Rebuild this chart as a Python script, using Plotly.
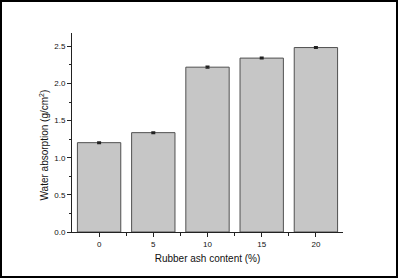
import plotly.graph_objects as go

categories = ["0", "5", "10", "15", "20"]
absorption = [1.203, 1.338, 2.220, 2.342, 2.484]
errors = [0.010, 0.010, 0.012, 0.010, 0.010]
y_ticks = [0.0, 0.5, 1.0, 1.5, 2.0, 2.5]
y_tick_labels = ["0.0", "0.5", "1.0", "1.5", "2.0", "2.5"]

W, H = 399, 279
L, R, T, B = 72, 56, 33, 47
pw, ph = W - L - R, H - T - B

def px(x):
    return (x - L) / pw

def py(y):
    return (H - B - y) / ph

fig = go.Figure()
fig.add_trace(go.Bar(
    x=list(range(len(categories))),
    y=absorption,
    width=0.8,
    marker=dict(color="#c6c6c6", line=dict(color="#505050", width=1)),
    error_y=dict(type="data", array=errors, visible=True, color="#222222",
                 thickness=1.5, width=2),
))

fig.update_layout(
    width=W, height=H,
    margin=dict(l=L, r=R, t=T, b=B, pad=0),
    paper_bgcolor="white", plot_bgcolor="white",
    showlegend=False,
    bargap=0.2,
    font=dict(family="Liberation Sans, Arial, sans-serif", color="#111111"),
    xaxis=dict(
        range=[-0.5, 4.5],
        tickmode="array",
        tickvals=list(range(len(categories))),
        ticktext=categories,
        ticks="outside", ticklen=4, tickwidth=1, tickcolor="#222",
        showline=True, linecolor="#222", linewidth=1,
        showgrid=False, zeroline=False,
        tickfont=dict(size=8),
        minor=dict(tickvals=[0.5, 1.5, 2.5, 3.5], ticks="outside",
                   ticklen=3, tickcolor="#222"),
        title=dict(text="Rubber ash content (%)", font=dict(size=10), standoff=7),
    ),
    yaxis=dict(
        range=[0, 2.68],
        tickmode="array",
        tickvals=y_ticks,
        ticktext=y_tick_labels,
        ticks="outside", ticklen=4, tickwidth=1, tickcolor="#222",
        showline=True, linecolor="#222", linewidth=1,
        showgrid=False, zeroline=False,
        tickfont=dict(size=8),
        minor=dict(dtick=0.25, ticks="outside", ticklen=2, tickcolor="#222"),
    ),
)

fig.add_annotation(
    text="Water absorption (g/cm<sup>2</sup>)",
    xref="paper", yref="paper", x=px(43.5), y=py(145),
    xanchor="center", yanchor="middle", textangle=-90,
    showarrow=False, font=dict(size=10, family="Liberation Sans, Arial, sans-serif"),
)

fig.add_shape(type="rect", xref="paper", yref="paper",
              x0=px(1), x1=px(397), y0=py(1), y1=py(277),
              line=dict(color="black", width=2), fillcolor="rgba(0,0,0,0)")

fig.write_html("out.html")
